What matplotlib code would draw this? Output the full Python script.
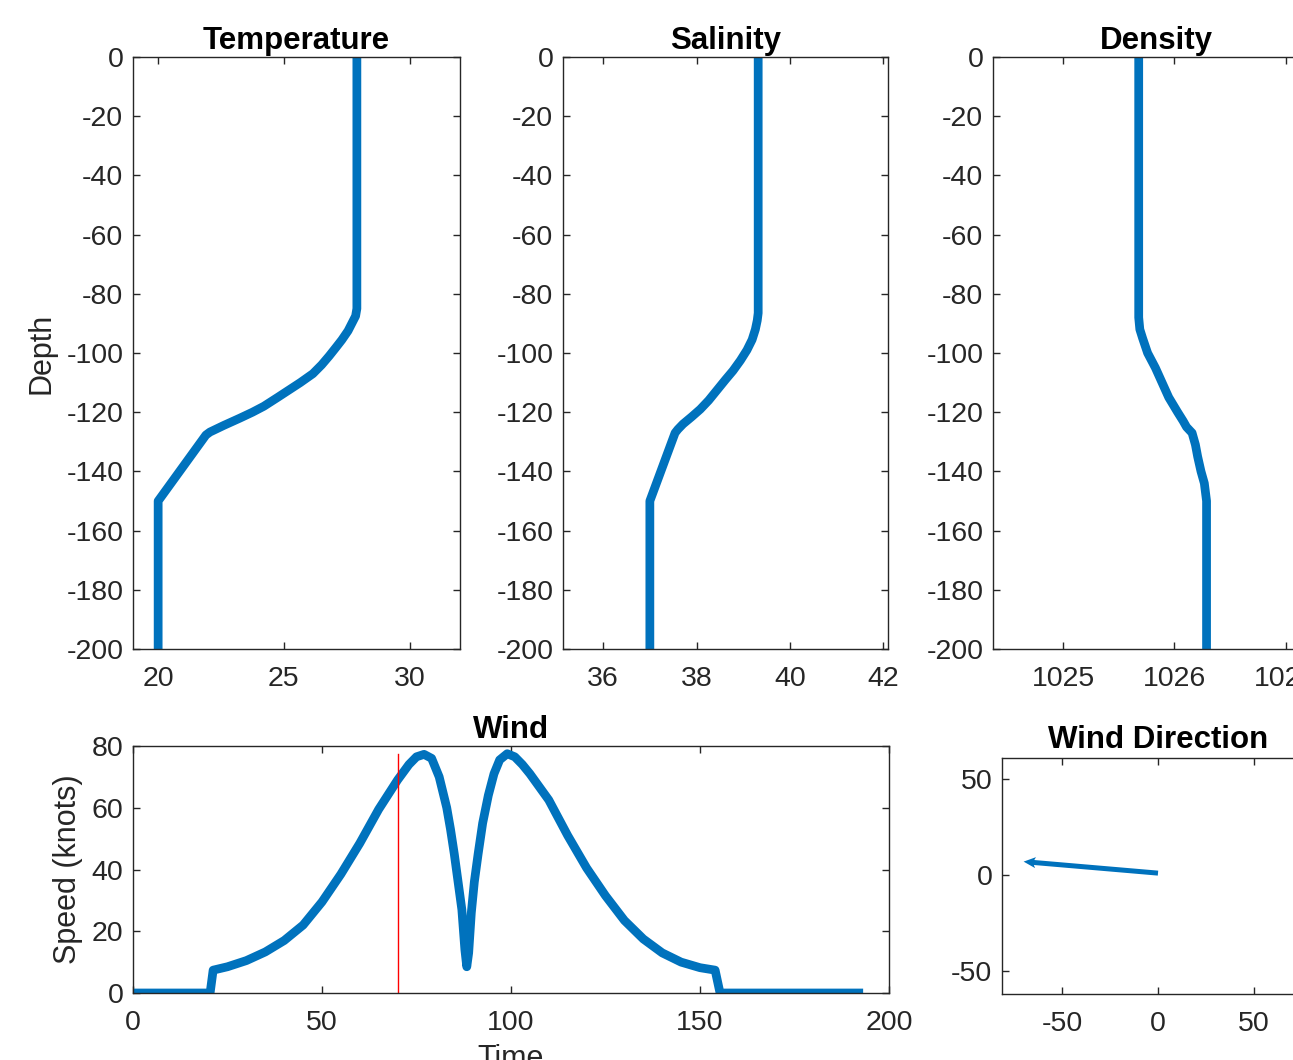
import numpy as np
import matplotlib.pyplot as plt

plt.rcParams['font.family'] = ['Liberation Sans', 'DejaVu Sans']
plt.rcParams['axes.unicode_minus'] = False

# profile data
temp_depth = [0, -85, -87.5, -90, -92.5, -95.6, -98, -101, -104, -107, -110, -112.5, -115,
              -118, -120, -122, -124.5, -126.7, -127.7, -150, -200]
temp = [27.9, 27.9, 27.85, 27.7, 27.55, 27.3, 27.08, 26.8, 26.5, 26.15, 25.65, 25.2, 24.75,
        24.2, 23.75, 23.25, 22.6, 22.06, 21.9, 20.0, 20.0]

sal_depth = [0, -86.5, -89, -92, -95.5, -99, -102.5, -106, -109, -112.5, -116, -119, -121.5,
             -124, -125.8, -127, -150, -200]
sal = [39.32, 39.32, 39.3, 39.26, 39.19, 39.08, 38.94, 38.78, 38.62, 38.44, 38.26, 38.08,
       37.9, 37.71, 37.6, 37.54, 37.0, 37.0]

dens_depth = [0, -88, -90, -92, -95, -100, -105, -110, -115, -120, -123, -125, -127, -131,
              -135, -140, -144, -150, -200]
dens = [1025.68, 1025.68, 1025.685, 1025.69, 1025.715, 1025.76, 1025.83, 1025.89, 1025.95,
        1026.03, 1026.08, 1026.11, 1026.16, 1026.19, 1026.21, 1026.24, 1026.27, 1026.29, 1026.29]

# wind speed time series
wind_t = [1, 20.4, 21.2, 25, 30, 35, 40, 45, 50, 55, 60, 65, 70, 73, 75, 77, 79, 81, 83,
          84, 85, 86, 87, 87.8, 88.3, 88.8, 89.5, 90.3, 91.3, 92.5, 94, 95.5, 97, 99, 101,
          103, 105, 110, 115, 120, 125, 130, 135, 140, 145, 150, 154, 155.3, 192]
wind_speed = [0, 0, 7.4, 8.5, 10.5, 13.3, 17, 22, 29.5, 38.5, 48.5, 59.5, 69, 74, 76.5, 77.3,
              76, 70, 60, 53, 45, 36, 27, 14, 8.5, 13, 26, 36, 45, 55, 64, 71, 75.5, 77.5, 76.5,
              74, 71, 62.5, 51, 40.5, 31.5, 23.5, 17.5, 13, 10, 8.2, 7.4, 0, 0]
t_now = 70
t_now_top = 77.5

# wind direction vector
dir_x0, dir_y0 = 0, 1
dir_u, dir_v = -70, 6

blue = '#0072BD'
gray = '#262626'

fig = plt.figure(figsize=(12.93, 10.6), dpi=100)
W, H = 1293, 1060


def px_axes(left, top, right, bottom):
    return fig.add_axes([left / W, 1 - bottom / H, (right - left) / W, (bottom - top) / H])


def style(ax):
    ax.tick_params(direction='in', top=True, right=True, length=5, width=1,
                   labelsize=20.5, colors=gray, pad=7)
    ax.tick_params(axis='x', pad=12)
    for s in ax.spines.values():
        s.set_color(gray)
        s.set_linewidth(1)


LW = 6.3
TFS = 22.5
LFS = 22

# Temperature
ax1 = px_axes(133, 57, 460, 649)
ax1.plot(temp, temp_depth, color=blue, lw=LW)
ax1.set_xlim(19, 32)
ax1.set_ylim(-200, 0)
ax1.set_xticks([20, 25, 30])
ax1.set_yticks(np.arange(-200, 1, 20))
ax1.set_title('Temperature', fontsize=TFS, fontweight='bold', pad=6)
ax1.set_ylabel('Depth', fontsize=LFS, color=gray)
ax1.yaxis.set_label_coords(-0.235, 0.5)
style(ax1)

# Salinity
ax2 = px_axes(563, 57, 888, 649)
ax2.plot(sal, sal_depth, color=blue, lw=LW)
ax2.set_xlim(35.14, 42.1)
ax2.set_ylim(-200, 0)
ax2.set_xticks([36, 38, 40, 42])
ax2.set_yticks(np.arange(-200, 1, 20))
ax2.set_title('Salinity', fontsize=TFS, fontweight='bold', pad=6)
style(ax2)

# Density
ax3 = px_axes(993, 57, 1320, 649)
ax3.plot(dens, dens_depth, color=blue, lw=LW)
ax3.set_xlim(1024.37, 1027.31)
ax3.set_ylim(-200, 0)
ax3.set_xticks([1025, 1026, 1027])
ax3.set_yticks(np.arange(-200, 1, 20))
ax3.set_title('Density', fontsize=TFS, fontweight='bold', pad=6)
style(ax3)

# Wind
ax4 = px_axes(133, 746, 889, 993)
ax4.plot(wind_t, wind_speed, color=blue, lw=LW, solid_joinstyle='round')
ax4.plot([t_now, t_now], [0, t_now_top], color='red', lw=1)
ax4.set_xlim(0, 200)
ax4.set_ylim(0, 80)
ax4.set_xticks([0, 50, 100, 150, 200])
ax4.set_yticks([0, 20, 40, 60, 80])
ax4.set_title('Wind', fontsize=TFS, fontweight='bold', pad=6)
ax4.set_ylabel('Speed (knots)', fontsize=LFS, color=gray)
ax4.yaxis.set_label_coords(-0.066, 0.5)
ax4.set_xlabel('Time', fontsize=LFS, color=gray)
ax4.xaxis.set_label_coords(0.5, -0.205)
style(ax4)

# Wind Direction
ax5 = px_axes(1002, 758, 1314, 994)
ax5.quiver(dir_x0, dir_y0, dir_u, dir_v, angles='xy', scale_units='xy', scale=1,
           color=blue, width=0.016, headwidth=2.2, headlength=2.4, headaxislength=2.1)
ax5.set_xlim(-81.25, 81.25)
ax5.set_ylim(-62, 61)
ax5.set_xticks([-50, 0, 50])
ax5.set_yticks([-50, 0, 50])
ax5.set_title('Wind Direction', fontsize=TFS, fontweight='bold', pad=7)
style(ax5)

fig.savefig('out.png', dpi=100)
